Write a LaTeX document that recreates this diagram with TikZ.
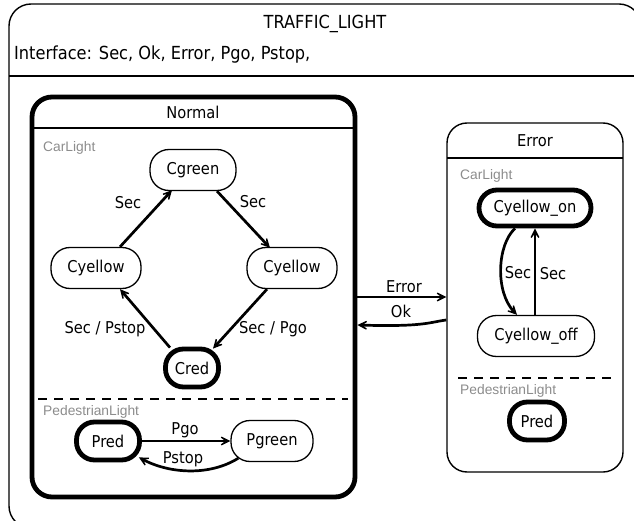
\documentclass[tikz,border=0pt]{standalone}
\usepackage{fontspec}
\setmainfont{DejaVu Sans Condensed}
\newfontfamily\grayfont{Liberation Sans}
\usetikzlibrary{arrows.meta}
\begin{document}
\begin{tikzpicture}[x=1pt,y=-1pt,
  font=\fontsize{16.3}{19}\selectfont,
  head/.style={font=\fontsize{18}{21}\selectfont},
  st/.style={draw, line width=1.3pt, rounded corners=19pt, minimum height=41pt, inner sep=0pt},
  stinit/.style={st, line width=4.8pt, minimum height=38pt, rounded corners=18pt},
  container/.style={draw, rectangle, inner sep=0pt},
  tr/.style={line width=2.7pt, -{Stealth[length=15pt,width=15pt,inset=10pt]}},
  reg/.style={font=\grayfont\fontsize{13.8}{16}\selectfont, text=black!45, anchor=west, inner sep=0pt},
  lbl/.style={inner sep=0pt},
  sep/.style={line width=1.4pt, dash pattern=on 9pt off 7pt}]
\useasboundingbox (0,0) rectangle (634,521);
\clip (0,0) rectangle (634,521);
% outer frame
\node[container, line width=1.4pt, rounded corners=22pt, minimum width=632pt, minimum height=524pt] (frame) at (325,266) {};
\draw[line width=1.4pt] (9,76) -- (641,76);
\node[head] (title) at (325,24) {TRAFFIC\_LIGHT};
\node[head, anchor=west, inner sep=0pt] (iface) at (14,55) {Interface: Sec, Ok, Error, Pgo, Pstop,};
% Normal container
\node[container, line width=4.8pt, rounded corners=20pt, minimum width=323pt, minimum height=400pt] (normal) at (193.5,297) {};
\draw[line width=1.4pt] (32,128) -- (355,128);
\node (normaltitle) at (193,112) {Normal};
\node[reg] (carl1) at (43,148) {CarLight};
\node[st, minimum width=86pt] (cgreen) at (193,170) {Cgreen};
\node[st, minimum width=90pt] (cyl) at (96,268) {Cyellow};
\node[st, minimum width=90pt] (cyr) at (292,268) {Cyellow};
\node[stinit, minimum width=53pt] (cred) at (192,368) {Cred};
\draw[tr] ([xshift=24pt]cyl.north) -- ([xshift=-21pt,yshift=1pt]cgreen.south);
\draw[tr] ([xshift=24pt]cgreen.south) -- ([xshift=-22pt,yshift=-1pt]cyr.north);
\draw[tr] ([xshift=-25pt]cyr.south) -- ([xshift=21pt,yshift=-2pt]cred.north);
\draw[tr] ([xshift=-22pt,yshift=-1pt]cred.north) -- ([xshift=24pt]cyl.south);
\node[lbl] (l1) at (128,203) {Sec};
\node[lbl] (l2) at (253,202) {Sec};
\node[lbl] (l3) at (273,329) {Sec / Pgo};
\node[lbl] (l4) at (105,329) {Sec / Pstop};
\draw[sep] (38,399) -- (348,399);
\node[reg] (pedl1) at (43,412) {PedestrianLight};
\node[stinit, minimum width=63pt] (pred) at (108,441) {Pred};
\node[st, minimum width=82pt] (pgreen) at (272,441) {Pgreen};
\draw[tr] (pred.east) -- (pgreen.west);
\draw[tr] ([xshift=8pt,yshift=4pt]pgreen.south west) .. controls (210,476) and (170,474) .. ([xshift=-3pt,yshift=5pt]pred.south east);
\node[lbl] (l5) at (185,430) {Pgo};
\node[lbl] (l6) at (183,459) {Pstop};
% Error container
\node[container, line width=1.4pt, rounded corners=20pt, minimum width=176pt, minimum height=349pt] (errbox) at (535,297.5) {};
\draw[line width=1.4pt] (447,158) -- (623,158);
\node (errtitle) at (535,141) {Error};
\node[reg] (carl2) at (460,176) {CarLight};
\node[stinit, minimum width=112pt, minimum height=36pt] (cyon) at (535,208) {Cyellow\_on};
\node[st, minimum width=117pt] (cyoff) at (536,336) {Cyellow\_off};
\draw[tr] ([xshift=-20pt]cyon.south) .. controls (497,245) and (495,292) .. ([xshift=-19pt]cyoff.north);
\draw[tr] (cyoff.north -| 535,0) -- (cyon.south -| 535,0);
\node[lbl] (l7) at (518,273) {Sec};
\node[lbl] (l8) at (553,274) {Sec};
\draw[sep] (458,378) -- (612,378);
\node[reg] (pedl2) at (460,391) {PedestrianLight};
\node[stinit, minimum width=55pt] (pred2) at (537,421) {Pred};
% transitions between containers
\draw[tr] (normal.east) -- (normal.east -| errbox.west);
\draw[tr] ([yshift=-22.5pt]errbox.west) .. controls (430,322) and (425,327) .. ([yshift=-28pt]normal.east);
\node[lbl] (l9) at (404,287) {Error};
\node[lbl] (l10) at (401,311) {Ok};
\end{tikzpicture}
\end{document}
